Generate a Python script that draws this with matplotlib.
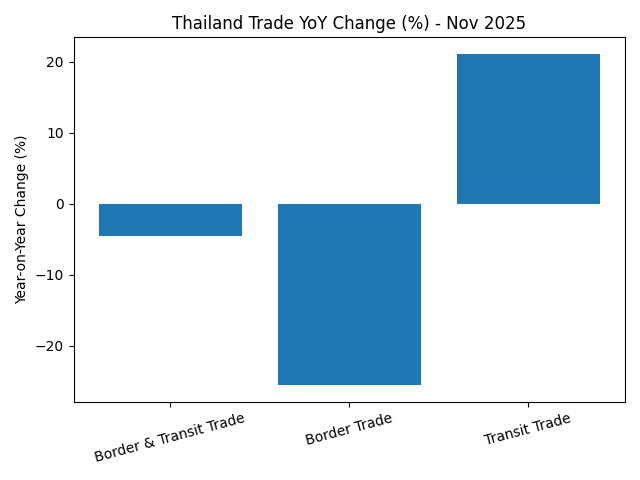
import matplotlib
matplotlib.use("Agg")
import matplotlib.pyplot as plt

categories = ["Border & Transit Trade", "Border Trade", "Transit Trade"]
yoy_change = [-4.5, -25.5, 21.1]

fig, ax = plt.subplots(figsize=(6.4, 4.8), dpi=100)
ax.bar(categories, yoy_change, color="#1f77b4")
ax.set_title("Thailand Trade YoY Change (%) - Nov 2025")
ax.set_ylabel("Year-on-Year Change (%)")
plt.xticks(rotation=15)
plt.tight_layout()
plt.savefig("out.png")
